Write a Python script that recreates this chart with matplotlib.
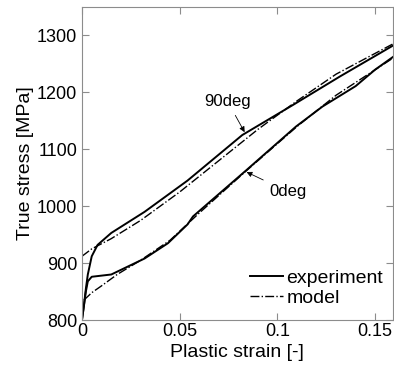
import matplotlib.pyplot as plt

plt.rcParams['font.family'] = ['Liberation Sans', 'DejaVu Sans']

# 90deg experiment / model
x90_exp = [0, 0.001, 0.002, 0.003, 0.005, 0.008, 0.015, 0.032, 0.054, 0.082, 0.108, 0.132, 0.159]
y90_exp = [800, 825, 855, 880, 912, 932, 953, 990, 1045, 1125, 1178, 1228, 1282]
x90_mod = [0, 0.005, 0.015, 0.03, 0.05, 0.07, 0.09, 0.11, 0.13, 0.159]
y90_mod = [912, 925, 943, 975, 1025, 1080, 1135, 1185, 1232, 1285]

# 0deg experiment / model
x0_exp = [0, 0.001, 0.002, 0.003, 0.005, 0.01, 0.015, 0.0235, 0.032, 0.044, 0.054,
          0.0568, 0.084, 0.1095, 0.123, 0.14, 0.15, 0.159]
y0_exp = [800, 825, 850, 868, 876, 878, 880, 894, 908, 935, 968,
          982, 1063, 1140, 1175, 1211, 1240, 1262]
x0_mod = [0.001, 0.005, 0.01, 0.018, 0.03, 0.045, 0.06, 0.084, 0.11, 0.13, 0.159]
y0_mod = [835, 848, 860, 880, 905, 940, 988, 1062, 1140, 1195, 1260]

fig = plt.figure(figsize=(3.94, 3.67), dpi=100)
ax = fig.add_axes([0.208, 0.128, 0.789, 0.853])

ax.plot(x90_exp, y90_exp, color='black', lw=1.4, label='experiment')
ax.plot(x90_mod, y90_mod, color='black', lw=1.0, ls='-.', label='model')
ax.plot(x0_exp, y0_exp, color='black', lw=1.4)
ax.plot(x0_mod, y0_mod, color='black', lw=1.0, ls='-.')

ax.annotate('90deg', xy=(0.0832, 1130), xytext=(0.0745, 1184), fontsize=12,
            ha='center', va='center',
            arrowprops=dict(arrowstyle='-|>', color='black', lw=0.6,
                            mutation_scale=8, shrinkA=3, shrinkB=0))
ax.annotate('0deg', xy=(0.0842, 1060), xytext=(0.1056, 1025), fontsize=12,
            ha='center', va='center',
            arrowprops=dict(arrowstyle='-|>', color='black', lw=0.6,
                            mutation_scale=8, shrinkA=3, shrinkB=0))

ax.set_xlim(0, 0.159)
ax.set_ylim(800, 1350)
ax.set_xticks([0, 0.05, 0.1, 0.15])
ax.set_xticklabels(['0', '0.05', '0.1', '0.15'])
ax.set_yticks([800, 900, 1000, 1100, 1200, 1300])

ax.set_xlabel('Plastic strain [-]', fontsize=14, labelpad=3)
ax.set_ylabel('True stress [MPa]', fontsize=14, labelpad=2)

for s in ax.spines.values():
    s.set_color('#8c8c8c')
ax.tick_params(direction='in', length=5, color='#8c8c8c', labelsize=13,
               top=True, right=True)
ax.tick_params(axis='x', pad=2)
ax.tick_params(axis='y', pad=3.5)

ax.legend(loc='lower right', bbox_to_anchor=(1.0, 0.01), frameon=False,
          fontsize=14, handlelength=1.7, handletextpad=0.15, labelspacing=0.15,
          borderpad=0)

fig.savefig('out.png', dpi=100)
